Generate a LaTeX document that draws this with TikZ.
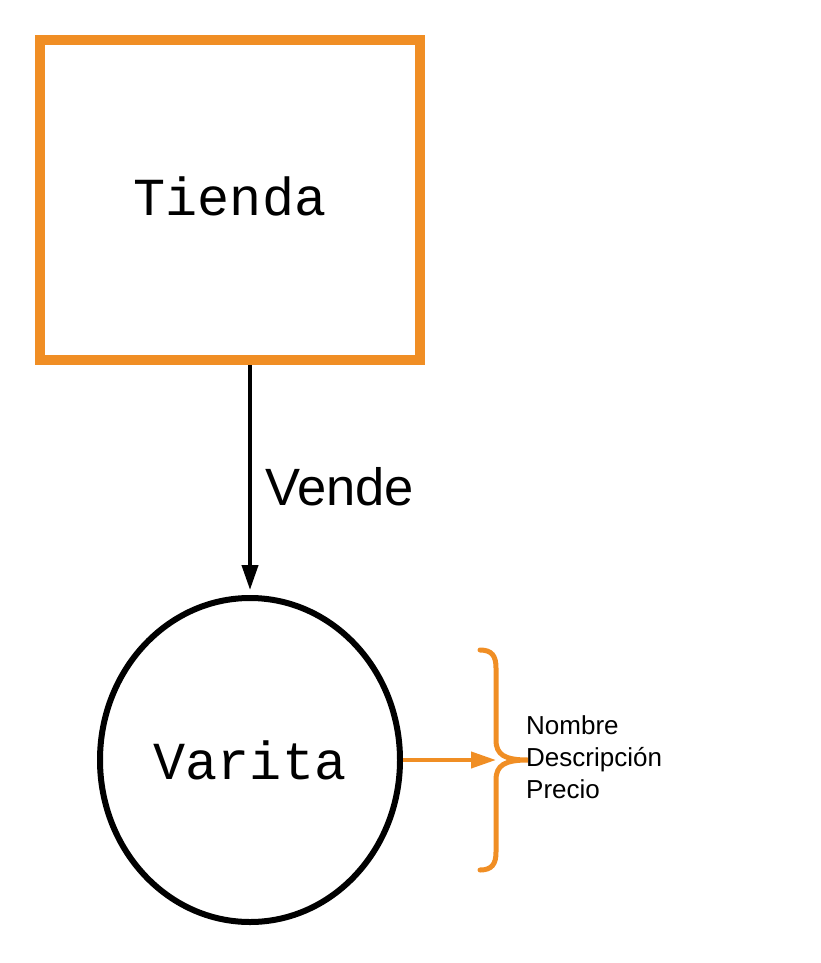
\documentclass[tikz,border=0pt]{standalone}
\usepackage{fontspec}
\setmainfont{Liberation Sans}
\newfontfamily\monof{Liberation Mono}
\usetikzlibrary{arrows.meta,shapes.geometric}
\definecolor{orng}{RGB}{240,142,36}
\tikzset{
  box/.style={draw=orng,line width=10pt,minimum width=380pt,minimum height=320pt,inner sep=0pt},
  ent/.style={draw=black,ellipse,line width=6pt,minimum width=300pt,minimum height=324pt,inner sep=0pt,font=\monof\fontsize{53.5}{60}\selectfont},
  blk/.style={line width=4pt,-{Triangle[length=25pt,width=16pt]}},
  org/.style={draw=orng,line width=4pt,-{Triangle[length=25pt,width=16pt]}},
  brc/.style={draw=orng,line width=5pt,line cap=round},
}
\begin{document}
\begin{tikzpicture}[x=1pt,y=-1pt]
\useasboundingbox (0,0) rectangle (820,963);
\node[box] (tienda) at (230,200) {};
\node[inner sep=0pt,font=\monof\fontsize{53.5}{60}\selectfont] (tlabel) at (230,196) {Tienda};
\node[ent] (varita) at (250,760) {Varita};
\draw[blk,shorten >=5pt] (tienda.south -| varita.north) -- (varita.north);
\node[anchor=base west,inner sep=0pt,font=\fontsize{52.5}{60}\selectfont] (vende) at (265,505) {Vende};
\coordinate (bt) at (496,760);
\draw[org] (varita.east) -- (bt);
\draw[brc] (480,650) .. controls (492,650) and (496,656) .. (496,668) -- (496,740)
  .. controls (496,755) and (505,760) .. (528,760)
  .. controls (505,760) and (496,765) .. (496,780) -- (496,852)
  .. controls (496,864) and (492,870) .. (480,870);
\node[anchor=west,inner sep=0pt,align=left,font=\fontsize{26}{32}\selectfont] (attrs) at (526,757) {Nombre\\Descripción\\Precio};
\end{tikzpicture}
\end{document}
